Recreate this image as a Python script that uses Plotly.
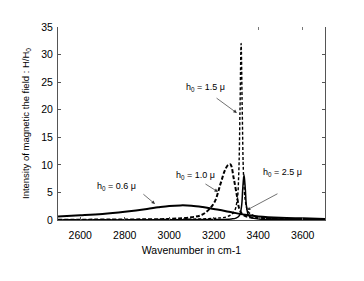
import plotly.graph_objects as go

# ---- data ----
wn_06 = [2500, 2600, 2700, 2800, 2900, 2950, 3000, 3050, 3100, 3150, 3200, 3250, 3300, 3350, 3400, 3500, 3600, 3700]
h_06 = [0.65, 0.85, 1.1, 1.5, 2.0, 2.3, 2.55, 2.65, 2.6, 2.35, 2.0, 1.65, 1.25, 0.9, 0.65, 0.4, 0.3, 0.2]

wn_10 = [2500, 2800, 3000, 3100, 3150, 3200, 3230, 3250, 3265, 3275, 3290, 3305, 3315, 3330, 3360, 3400, 3450, 3550, 3700]
h_10 = [0.05, 0.1, 0.2, 0.5, 1.0, 3.0, 6.5, 9.0, 10.0, 10.1, 7.5, 4.2, 2.0, 1.0, 0.5, 0.35, 0.25, 0.15, 0.1]

wn_15 = [2500, 3000, 3200, 3260, 3290, 3305, 3312, 3318, 3323, 3328, 3334, 3342, 3355, 3380, 3420, 3500, 3700]
h_15 = [0.05, 0.1, 0.3, 0.6, 1.4, 3.5, 8.0, 20.0, 32.0, 20.0, 8.0, 3.5, 1.5, 0.8, 0.4, 0.2, 0.1]

wn_25 = [2500, 3000, 3200, 3280, 3300, 3315, 3325, 3330, 3336, 3342, 3347, 3357, 3370, 3400, 3500, 3700]
h_25 = [0.02, 0.05, 0.1, 0.2, 0.35, 0.8, 2.5, 5.5, 8.2, 5.5, 2.5, 0.8, 0.4, 0.2, 0.1, 0.05]

x_ticks = [2600, 2800, 3000, 3200, 3400, 3600]
y_ticks = [0, 5, 10, 15, 20, 25, 30, 35]

labels = ["h<sub>0</sub> = 0.6 \u03bc", "h<sub>0</sub> = 1.0 \u03bc", "h<sub>0</sub> = 1.5 \u03bc", "h<sub>0</sub> = 2.5 \u03bc"]
label_x = [2765, 3116, 3165, 3511]
label_y = [6.0, 8.0, 24.1, 8.7]
arrow_tail_x = [2877, 3156, 3206, 3493]
arrow_tail_y = [4.9, 6.7, 22.3, 4.9]
arrow_head_x = [2936, 3219, 3304, 3349]
arrow_head_y = [2.9, 5.1, 19.4, 1.8]

FONT = "Liberation Sans, Arial, sans-serif"

fig = go.Figure()
fig.add_trace(go.Scatter(x=wn_06, y=h_06, mode="lines", line=dict(color="black", width=2, shape="spline"), showlegend=False))
fig.add_trace(go.Scatter(x=wn_10, y=h_10, mode="lines", line=dict(color="black", width=2, dash="4px,2px", shape="spline"), showlegend=False))
fig.add_trace(go.Scatter(x=wn_15, y=h_15, mode="lines", line=dict(color="black", width=1.4, dash="3px,2px", shape="spline"), showlegend=False))
fig.add_trace(go.Scatter(x=wn_25, y=h_25, mode="lines", line=dict(color="black", width=1.5, shape="spline"), showlegend=False))
# invisible trace on top axis to carry top ticks
fig.add_trace(go.Scatter(x=[2500, 3700], y=[0, 0], mode="lines", line=dict(width=0), xaxis="x2", hoverinfo="skip", showlegend=False))

for i in range(4):
    fig.add_annotation(x=label_x[i], y=label_y[i], text=labels[i], showarrow=False,
                       font=dict(family=FONT, size=9, color="black"))
    fig.add_annotation(x=arrow_head_x[i], y=arrow_head_y[i], ax=arrow_tail_x[i], ay=arrow_tail_y[i],
                       axref="x", ayref="y", text="", showarrow=True,
                       arrowhead=2, arrowsize=1, arrowwidth=0.7, arrowcolor="#333")

fig.update_layout(
    width=364, height=281,
    margin=dict(l=50, r=47, t=19, b=69),
    paper_bgcolor="white", plot_bgcolor="white",
    font=dict(family=FONT, size=10, color="black"),
    xaxis=dict(range=[2500, 3700], tickvals=x_ticks, ticks="inside", ticklen=3, tickcolor="#555",
               showline=True, linecolor="#555", linewidth=1, showgrid=False, zeroline=False,
               ticklabelstandoff=5,
               title=dict(text="Wavenumber in cm-1", font=dict(size=10.5), standoff=7),
               tickfont=dict(size=10.5)),
    xaxis2=dict(range=[2500, 3700], overlaying="x", side="top", tickvals=[3400, 3600], ticks="inside",
                ticklen=3, tickcolor="#777", showticklabels=False, showline=False, showgrid=False, zeroline=False),
    yaxis=dict(range=[0, 35], tickvals=y_ticks, ticks="inside", ticklen=3, tickcolor="#555",
               showline=True, linecolor="#555", linewidth=1, mirror="ticks", showgrid=False, zeroline=False,
               ticklabelstandoff=2,
               title=dict(text="Intensity of magnetic the field : H/H<sub>0</sub>", font=dict(size=9.5), standoff=9),
               tickfont=dict(size=10.5)),
)

fig.write_html("out.html")
